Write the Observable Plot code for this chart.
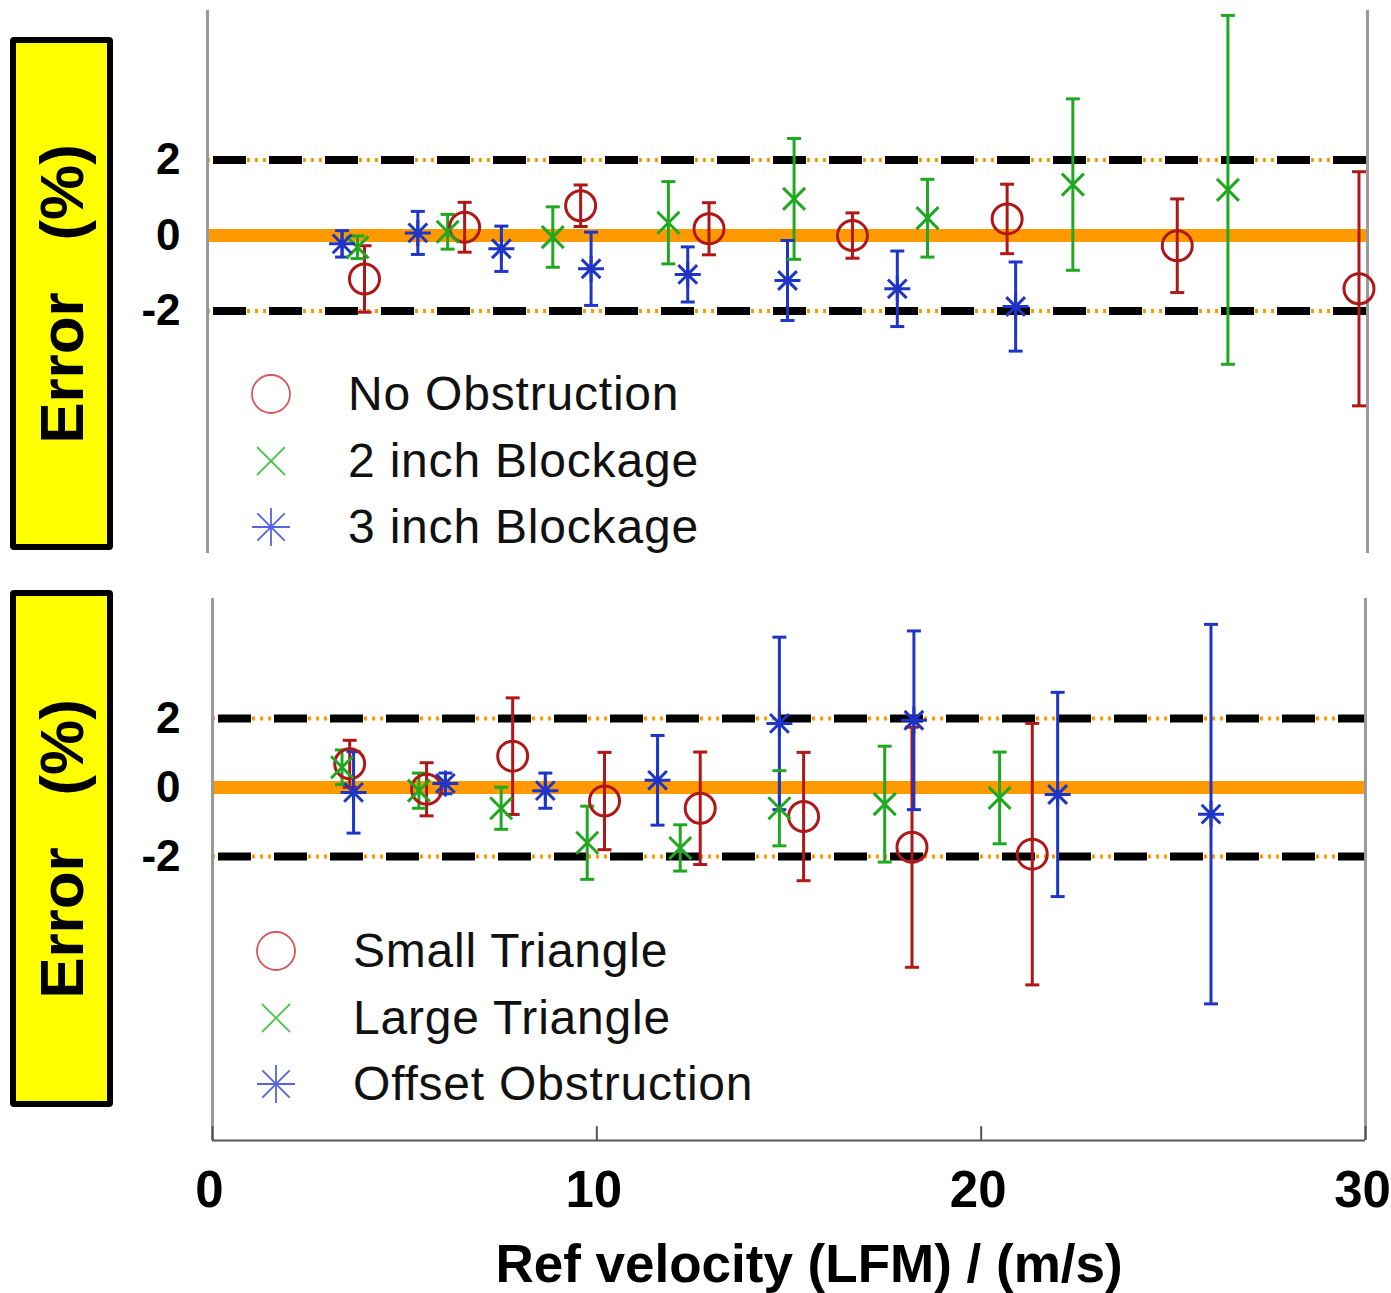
<!DOCTYPE html>
<html><head><meta charset="utf-8">
<script src="https://cdn.jsdelivr.net/npm/d3@7"></script>
<script src="https://cdn.jsdelivr.net/npm/@observablehq/plot@0.6"></script>
<style>
body{margin:0;background:#fff;}
#root{position:relative;width:1391px;height:1293px;overflow:hidden;font-family:"Liberation Sans",Arial,sans-serif;}
.panel{position:absolute;left:0;}
.ybox{position:absolute;left:10px;width:91px;background:#ffff00;border:6px solid #000;border-radius:4px;}
.ybox span{position:absolute;left:50%;top:50%;transform:translate(-50%,-50%) rotate(-90deg);font-weight:bold;font-size:62px;white-space:pre;color:#000;line-height:1;}
.legend{position:absolute;}
.lrow{position:relative;height:66.5px;}
.lrow svg{position:absolute;left:0;top:0;overflow:visible;}
.lrow span{position:absolute;top:50%;transform:translateY(-50%);font-size:48px;letter-spacing:0.8px;color:#111;white-space:nowrap;line-height:1;}
</style>
</head><body>
<div id="root"></div>
<script>
// ---------- data ----------
const xDomain = [0, 30];
const xTicks = [0, 10, 20, 30];
const yTicks = [-2, 0, 2];
const limitLines = [-2, 2];
const zeroLine = [0];
const xTitle = "Ref velocity (LFM) / (m/s)";
const yTitle = "Error   (%)";

const topSeries = ["No Obstruction", "2 inch Blockage", "3 inch Blockage"];
const bottomSeries = ["Small Triangle", "Large Triangle", "Offset Obstruction"];
const seriesColors = ["#b01818", "#20a820", "#1f35c8"];
const legendColors = ["#d45858", "#52c452", "#5564e0"];

// top panel
const noObsV   = [4.06, 6.65, 9.65, 12.97, 16.68, 20.68, 25.08, 29.78];
const noObsE   = [-1.15, 0.22, 0.79, 0.18, 0.0, 0.44, -0.27, -1.41];
const noObsErr = [0.88, 0.66, 0.55, 0.69, 0.6, 0.92, 1.24, 3.1];

const in2V   = [3.88, 6.21, 8.93, 11.92, 15.17, 18.62, 22.38, 26.39];
const in2E   = [-0.31, 0.1, -0.04, 0.34, 0.97, 0.46, 1.35, 1.21];
const in2Err = [0.3, 0.46, 0.8, 1.09, 1.6, 1.03, 2.27, 4.62];

const in3V   = [3.48, 5.44, 7.60, 9.92, 12.42, 15.0, 17.84, 20.9];
const in3E   = [-0.22, 0.07, -0.35, -0.88, -1.03, -1.19, -1.41, -1.88];
const in3Err = [0.35, 0.57, 0.6, 0.97, 0.73, 1.06, 1.0, 1.18];

// bottom panel
const smallV   = [3.57, 5.57, 7.81, 10.2, 12.69, 15.38, 18.2, 21.33];
const smallE   = [0.69, -0.05, 0.91, -0.39, -0.6, -0.84, -1.73, -1.93];
const smallErr = [0.68, 0.77, 1.69, 1.41, 1.63, 1.86, 3.48, 3.79];

const largeV   = [3.37, 5.37, 7.51, 9.75, 12.17, 14.75, 17.49, 20.48];
const largeE   = [0.59, -0.09, -0.6, -1.6, -1.75, -0.6, -0.48, -0.3];
const largeErr = [0.5, 0.51, 0.61, 1.06, 0.67, 1.09, 1.68, 1.33];

const offsetV   = [3.67, 6.06, 8.66, 11.58, 14.75, 18.25, 21.99, 25.98];
const offsetE   = [-0.14, 0.12, -0.09, 0.21, 1.86, 1.95, -0.2, -0.77];
const offsetErr = [1.18, 0.3, 0.51, 1.3, 2.5, 2.59, 2.96, 5.5];

// ---------- symbols ----------
const rad = s => Math.sqrt(s / Math.PI);
const capSym = {draw(c, s){ const r = rad(s); c.moveTo(-r,0); c.lineTo(r,0); }};
const circleSym = {draw(c, s){ const r = rad(s); c.moveTo(r,0); c.arc(0,0,r,0,2*Math.PI); c.closePath(); }};
const timesSym = {draw(c, s){ const r = rad(s); c.moveTo(-r,-r); c.lineTo(r,r); c.moveTo(-r,r); c.lineTo(r,-r); }};
const starSym = {draw(c, s){ const r = rad(s), d = r*0.72;
  c.moveTo(-r,0); c.lineTo(r,0); c.moveTo(0,-r); c.lineTo(0,r);
  c.moveTo(-d,-d); c.lineTo(d,d); c.moveTo(-d,d); c.lineTo(d,-d); }};
const symbols = [circleSym, timesSym, starSym];
const markerR = [15, 11, 13];
const legendR = [19, 14, 19];

function rows(v, e, err, s){ return v.map((x,i)=>({v:x, e:e[i], lo:e[i]-err[i], hi:e[i]+err[i], s})); }

const root = document.getElementById("root");

function panel(opts){
  const {series, sets, yDomain, top, height, mt, mb, ml, mr, bottomAxis, tickPad} = opts;
  const data = sets.flat();
  const marks = [
    Plot.ruleY(limitLines, {stroke:"#ff9900", strokeWidth:4, strokeDasharray:"3,5"}),
    Plot.ruleY(limitLines, {stroke:"#000", strokeWidth:8, strokeDasharray:"33,23", strokeDashoffset:-6}),
    Plot.ruleY(zeroLine, {stroke:"#ff9900", strokeWidth:13}),
    Plot.ruleX(xDomain, {stroke:"#9a9a9a", strokeWidth:3}),
    Plot.axisY(yTicks, {tickSize:0, tickPadding:tickPad, fontSize:44, fontWeight:"bold", fill:"#000", tickFormat: d => String(d), label:null}),
    Plot.ruleX(data, {x:"v", y1:"lo", y2:"hi", stroke:"s", strokeWidth:3}),
    Plot.dot(data, {x:"v", y:"lo", symbol:capSym, r:7, stroke:"s", strokeWidth:3}),
    Plot.dot(data, {x:"v", y:"hi", symbol:capSym, r:7, stroke:"s", strokeWidth:3}),
    ...series.map((name,i)=> Plot.dot(data.filter(d=>d.s===name), {x:"v", y:"e", symbol:symbols[i], r:markerR[i], stroke:"s", strokeWidth:3, fill:"none"}))
  ];
  if (bottomAxis){
    marks.push(
      Plot.ruleY([yDomain[0]], {stroke:"#555", strokeWidth:2}),
      Plot.ruleX(xTicks, {y1:yDomain[0], y2:yDomain[0]+0.4, stroke:"#555", strokeWidth:2}),
      Plot.axisX(xTicks, {tickSize:0, tickPadding:30, dx:-3, fontSize:51, fontWeight:"bold", fill:"#000", label:null, tickFormat: d => String(d)}),
      Plot.text([xTitle], {frameAnchor:"bottom", lineAnchor:"middle", dy:125, dx:20, fontSize:53, fontWeight:"bold", fill:"#000"})
    );
  }
  const svg = Plot.plot({
    width:1391, height, marginTop:mt, marginBottom:mb, marginLeft:ml, marginRight:mr,
    x:{domain:xDomain, axis: bottomAxis ? undefined : null, label:null},
    y:{domain:yDomain, label:null},
    color:{domain:series, range:seriesColors},
    style:{background:"transparent", overflow:"visible", fontFamily:"Liberation Sans, Arial, sans-serif"},
    marks
  });
  const div = document.createElement("div");
  div.className = "panel";
  div.style.top = top + "px";
  div.appendChild(svg);
  root.appendChild(div);
}

panel({series:topSeries, sets:[rows(noObsV,noObsE,noObsErr,topSeries[0]), rows(in2V,in2E,in2Err,topSeries[1]), rows(in3V,in3E,in3Err,topSeries[2])],
  yDomain:[-8.42, 5.96], top:0, height:560, mt:10, mb:7, ml:207, mr:24, bottomAxis:false, tickPad:27});
panel({series:bottomSeries, sets:[rows(smallV,smallE,smallErr,bottomSeries[0]), rows(largeV,largeE,largeErr,bottomSeries[1]), rows(offsetV,offsetE,offsetErr,bottomSeries[2])],
  yDomain:[-10.23, 5.48], top:590, height:703, mt:8, mb:153, ml:212, mr:26, bottomAxis:true, tickPad:32});

// yellow y-title boxes
function ybox(top, h){
  const b = document.createElement("div");
  b.className = "ybox"; b.style.top = top + "px"; b.style.height = h + "px";
  const s = document.createElement("span"); s.textContent = yTitle; b.appendChild(s);
  root.appendChild(b);
}
ybox(37, 501);
ybox(590, 505);

// legends
function legend(names, left, top, textLeft){
  const L = document.createElement("div");
  L.className = "legend"; L.style.left = left + "px"; L.style.top = top + "px";
  names.forEach((n,i)=>{
    const row = document.createElement("div"); row.className = "lrow";
    const svg = d3.create("svg").attr("width", 1).attr("height", 1);
    svg.append("path").attr("transform", "translate(0,33)")
      .attr("d", d3.symbol(symbols[i], legendR[i]*legendR[i]*Math.PI)())
      .attr("fill","none").attr("stroke", legendColors[i]).attr("stroke-width", 1.8);
    row.appendChild(svg.node());
    const t = document.createElement("span"); t.textContent = n; t.style.left = textLeft + "px";
    row.appendChild(t);
    L.appendChild(row);
  });
  root.appendChild(L);
}
legend(topSeries, 271, 361, 77);
legend(bottomSeries, 276, 918, 77);
</script>
</body></html>
